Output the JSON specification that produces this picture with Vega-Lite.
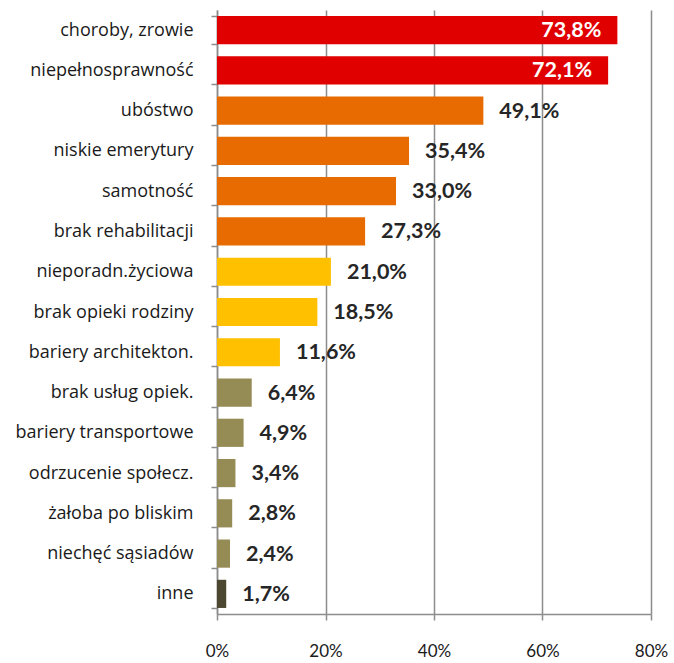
{
  "$schema": "https://vega.github.io/schema/vega-lite/v6.json",
  "autosize": "none",
  "width": 434,
  "height": 604,
  "padding": {"left": 217, "top": 10, "right": 23, "bottom": 49},
  "background": "white",
  "config": {
    "locale": {"number": {"decimal": ",", "thousands": " ", "grouping": [3], "currency": ["", " zł"]}},
    "view": {"stroke": null},
    "font": "Lato"
  },
  "data": {
    "values": [
      {"kategoria": "choroby, zrowie", "wartosc": 0.738, "grupa": "A"},
      {"kategoria": "niepełnosprawność", "wartosc": 0.721, "grupa": "A"},
      {"kategoria": "ubóstwo", "wartosc": 0.491, "grupa": "B"},
      {"kategoria": "niskie emerytury", "wartosc": 0.354, "grupa": "B"},
      {"kategoria": "samotność", "wartosc": 0.330, "grupa": "B"},
      {"kategoria": "brak rehabilitacji", "wartosc": 0.273, "grupa": "B"},
      {"kategoria": "nieporadn.życiowa", "wartosc": 0.210, "grupa": "C"},
      {"kategoria": "brak opieki rodziny", "wartosc": 0.185, "grupa": "C"},
      {"kategoria": "bariery architekton.", "wartosc": 0.116, "grupa": "C"},
      {"kategoria": "brak usług opiek.", "wartosc": 0.064, "grupa": "D"},
      {"kategoria": "bariery transportowe", "wartosc": 0.049, "grupa": "D"},
      {"kategoria": "odrzucenie społecz.", "wartosc": 0.034, "grupa": "D"},
      {"kategoria": "żałoba po bliskim", "wartosc": 0.028, "grupa": "D"},
      {"kategoria": "niechęć sąsiadów", "wartosc": 0.024, "grupa": "D"},
      {"kategoria": "inne", "wartosc": 0.017, "grupa": "E"}
    ]
  },
  "encoding": {
    "y": {
      "field": "kategoria", "type": "nominal", "sort": null,
      "scale": {"paddingInner": 0.3, "paddingOuter": 0.15},
      "axis": {
        "title": null, "tickBand": "extent", "domainColor": "#8c8c8c", "domainWidth": 1.5,
        "tickColor": "#8c8c8c", "tickWidth": 1.5, "tickSize": 6,
        "labelFont": "Open Sans", "labelFontSize": 18, "labelColor": "#1a1a1a", "labelPadding": 18,
        "labelLimit": 250
      }
    },
    "x": {
      "field": "wartosc", "type": "quantitative",
      "scale": {"domain": [0, 0.8], "nice": false},
      "axis": {
        "title": null, "format": ".0%", "values": [0, 0.2, 0.4, 0.6, 0.8],
        "grid": true, "gridColor": "#8c8c8c", "gridWidth": 1.5,
        "domainColor": "#8c8c8c", "domainWidth": 1.5,
        "tickColor": "#8c8c8c", "tickWidth": 1.5, "tickSize": 6,
        "labelFont": "Lato", "labelFontSize": 17, "labelColor": "#1a1a1a", "labelPadding": 23,
        "labelFlush": false
      }
    }
  },
  "layer": [
    {
      "mark": {"type": "bar"},
      "encoding": {
        "color": {
          "field": "grupa", "type": "nominal", "legend": null,
          "scale": {"domain": ["A", "B", "C", "D", "E"], "range": ["#e00000", "#e76b00", "#ffc000", "#958b55", "#4c4730"]}
        }
      }
    },
    {
      "transform": [{"filter": "datum.wartosc < 0.7"}],
      "mark": {"type": "text", "align": "left", "dx": 16, "dy": 1, "fontWeight": "bold", "fontSize": 21.5, "color": "#262626", "font": "Lato"},
      "encoding": {"text": {"field": "wartosc", "type": "quantitative", "format": ".1%"}}
    },
    {
      "transform": [{"filter": "datum.wartosc >= 0.7"}],
      "mark": {"type": "text", "align": "right", "dx": -16, "dy": 1, "fontWeight": "bold", "fontSize": 21.5, "color": "white", "font": "Lato"},
      "encoding": {"text": {"field": "wartosc", "type": "quantitative", "format": ".1%"}}
    }
  ]
}
